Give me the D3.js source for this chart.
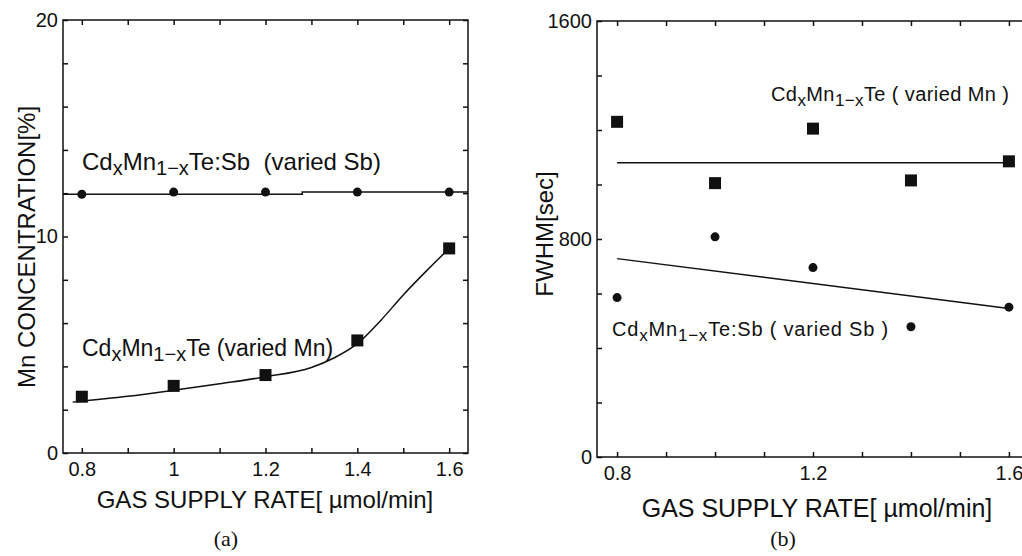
<!DOCTYPE html>
<html>
<head>
<meta charset="utf-8">
<script src="https://cdn.jsdelivr.net/npm/d3@7/dist/d3.min.js"></script>
<style>
  body { margin: 0; background: #fff; }
  svg { display: block; font-family: 'Liberation Sans', Arial, sans-serif; }
</style>
</head>
<body>
<svg id="chart" width="1022" height="556"></svg>
<script>
// gas supply rate [umol/min]
const rates = [0.8, 1.0, 1.2, 1.4, 1.6]

// (a) Mn concentration [%]
const concVariedMn = [2.6, 3.1, 3.6, 5.2, 9.45]
const concVariedSb = [11.95, 12.05, 12.05, 12.05, 12.05]
const concFitMnX = [0.78, 0.9, 1.0, 1.1, 1.2, 1.3, 1.35, 1.4, 1.45, 1.5, 1.55, 1.6]
const concFitMnY = [2.35, 2.62, 2.9, 3.2, 3.52, 3.95, 4.4, 5.05, 6.1, 7.3, 8.4, 9.45]
const concFitSbX = [0.759, 1.28, 1.28, 1.641]
const concFitSbY = [11.95, 11.95, 12.05, 12.05]

// (b) FWHM [sec]
const fwhmVariedMn = [1230, 1005, 1205, 1015, 1085]
const fwhmVariedSb = [585, 808, 695, 478, 550]
const fwhmFitMnX = [0.8, 1.6]
const fwhmFitMnY = [1080, 1080]
const fwhmFitSbX = [0.8, 1.6]
const fwhmFitSbY = [728, 545]

// ticks
const xTicks = [0.8, 0.9, 1.0, 1.1, 1.2, 1.3, 1.4, 1.5, 1.6]
const xLabelsA = [0.8, 1.0, 1.2, 1.4, 1.6]
const xLabelsB = [0.8, 1.2, 1.6]
const yTicksA = d3.range(0, 21, 2)
const yLabelsA = [0, 10, 20]
const yTicksB = d3.range(0, 1601, 200)
const yLabelsB = [0, 800, 1600]

const svg = d3.select('#chart')
const ink = '#111'

/**
 * Zip two arrays into [x, y] pairs.
 */
function pairs (xs, ys) {
  return xs.map((x, i) => [x, ys[i]])
}

/**
 * Draw the framed plot area with inward ticks on all four sides.
 */
function drawFrame (g, x, y, opts) {
  const [x0, x1] = x.range()
  const [y0, y1] = y.range()
  const fmtX = d => opts.xLabels.some(v => Math.abs(v - d) < 1e-9) ? d3.format('~g')(d) : ''
  const fmtY = d => opts.yLabels.includes(d) ? d : ''

  const bottom = g.append('g')
    .attr('transform', `translate(0,${y0})`)
    .call(d3.axisBottom(x).tickValues(xTicks).tickFormat(fmtX).tickSize(-5).tickSizeOuter(0).tickPadding(9))
  const top = g.append('g')
    .attr('transform', `translate(0,${y1})`)
    .call(d3.axisTop(x).tickValues(xTicks).tickFormat('').tickSize(-5).tickSizeOuter(0))
  const left = g.append('g')
    .attr('transform', `translate(${x0},0)`)
    .call(d3.axisLeft(y).tickValues(opts.yTicks).tickFormat(fmtY).tickSize(-5).tickSizeOuter(0).tickPadding(5))
  const right = g.append('g')
    .attr('transform', `translate(${x1},0)`)
    .call(d3.axisRight(y).tickValues(opts.yTicks).tickFormat('').tickSize(-5).tickSizeOuter(0))

  ;[bottom, top, left, right].forEach(a => {
    a.select('.domain').remove()
    a.selectAll('line').attr('stroke', ink).attr('stroke-width', 1.5)
    a.selectAll('text').attr('fill', ink).style('font-size', '20px')
      .style('font-family', "'Liberation Sans', Arial, sans-serif")
  })

  g.append('rect')
    .attr('x', x0)
    .attr('y', y1)
    .attr('width', x1 - x0)
    .attr('height', y0 - y1)
    .attr('fill', 'none')
    .attr('stroke', ink)
    .attr('stroke-width', 1.5)
}

/**
 * Draw a series of markers.
 */
function drawMarkers (g, x, y, ys, shape) {
  const data = pairs(rates, ys)
  if (shape === 'square') {
    g.selectAll(null).data(data).enter().append('rect')
      .attr('x', d => x(d[0]) - 6)
      .attr('y', d => y(d[1]) - 6)
      .attr('width', 12)
      .attr('height', 12)
      .attr('fill', ink)
  } else {
    g.selectAll(null).data(data).enter().append('circle')
      .attr('cx', d => x(d[0]))
      .attr('cy', d => y(d[1]))
      .attr('r', 4.5)
      .attr('fill', ink)
  }
}

/**
 * Draw a fit line.
 */
function drawLine (g, x, y, xs, ys, curve) {
  const line = d3.line()
    .x(d => x(d[0]))
    .y(d => y(d[1]))
    .curve(curve || d3.curveLinear)
  g.append('path')
    .datum(pairs(xs, ys))
    .attr('d', line)
    .attr('fill', 'none')
    .attr('stroke', ink)
    .attr('stroke-width', 1.5)
}

/**
 * Add a chemical formula label: Cd_x Mn_(1-x) Te + suffix.
 */
function formula (g, px, py, suffix, size, spacing) {
  const t = g.append('text')
    .attr('x', px)
    .attr('y', py)
    .attr('fill', ink)
    .style('font-size', size + 'px')
    .style('letter-spacing', spacing + 'px')
  const sub = Math.round(size * 0.85)
  t.append('tspan').text('Cd')
  t.append('tspan').attr('dy', 5).style('font-size', sub + 'px').text('x')
  t.append('tspan').attr('dy', -5).text('Mn')
  t.append('tspan').attr('dy', 5).style('font-size', sub + 'px').text('1\u2212x')
  t.append('tspan').attr('dy', -5).text(suffix)
}

/**
 * Rotated y-axis title.
 */
function yTitle (g, px, py, label, size) {
  g.append('text')
    .attr('transform', `translate(${px},${py}) rotate(-90)`)
    .attr('text-anchor', 'middle')
    .attr('fill', ink)
    .style('font-size', size + 'px')
    .text(label)
}

/**
 * x-axis title and panel tag.
 */
function xTitle (g, px, py, size) {
  g.append('text')
    .attr('x', px)
    .attr('y', py)
    .attr('text-anchor', 'middle')
    .attr('fill', ink)
    .style('font-size', size + 'px')
    .text('GAS SUPPLY RATE[ \u00b5mol/min]')
}

function panelTag (g, px, py, tag) {
  g.append('text')
    .attr('x', px)
    .attr('y', py)
    .attr('text-anchor', 'middle')
    .attr('fill', ink)
    .style('font-family', "'Liberation Serif', 'Times New Roman', serif")
    .style('font-size', '22px')
    .text(tag)
}

// panel (a)
const xa = d3.scaleLinear().domain([0.759, 1.641]).range([63, 468])
const ya = d3.scaleLinear().domain([0, 20]).range([453, 20])
const ga = svg.append('g')
drawFrame(ga, xa, ya, { xLabels: xLabelsA, yTicks: yTicksA, yLabels: yLabelsA })
drawLine(ga, xa, ya, concFitSbX, concFitSbY)
drawLine(ga, xa, ya, concFitMnX, concFitMnY, d3.curveMonotoneX)
drawMarkers(ga, xa, ya, concVariedSb, 'circle')
drawMarkers(ga, xa, ya, concVariedMn, 'square')
formula(ga, 82, 170, 'Te:Sb\u00a0\u00a0(varied Sb)', 24, 0)
formula(ga, 82, 356, 'Te (varied Mn)', 23, 0)
yTitle(ga, 35, 247, 'Mn CONCENTRATION[%]', 24)
xTitle(ga, 265, 508, 24)
panelTag(ga, 226, 546, '(a)')

// panel (b)
const xb = d3.scaleLinear().domain([0.759, 1.641]).range([597, 1029])
const yb = d3.scaleLinear().domain([0, 1600]).range([457, 21])
const gb = svg.append('g')
drawFrame(gb, xb, yb, { xLabels: xLabelsB, yTicks: yTicksB, yLabels: yLabelsB })
drawLine(gb, xb, yb, fwhmFitMnX, fwhmFitMnY)
drawLine(gb, xb, yb, fwhmFitSbX, fwhmFitSbY)
drawMarkers(gb, xb, yb, fwhmVariedMn, 'square')
drawMarkers(gb, xb, yb, fwhmVariedSb, 'circle')
formula(gb, 771, 101, 'Te ( varied Mn )', 20, 0.4)
formula(gb, 612, 336, 'Te:Sb ( varied Sb )', 20, 0.8)
yTitle(gb, 553, 234, 'FWHM[sec]', 24)
xTitle(gb, 817, 517, 25)
panelTag(gb, 783, 546, '(b)')
</script>
</body>
</html>
